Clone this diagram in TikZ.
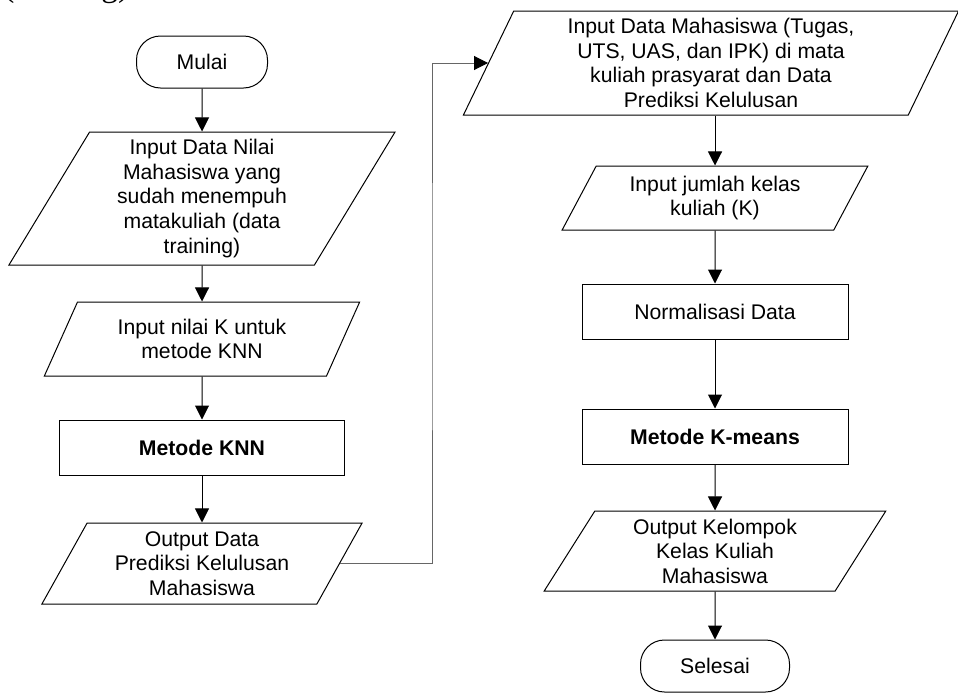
\documentclass[tikz,border=0pt]{standalone}
\usepackage{fontspec}
\setmainfont{Liberation Sans}
\newfontfamily\capfont{Liberation Serif}
\usetikzlibrary{arrows.meta}
\usetikzlibrary{shapes.geometric}

\begin{document}
\begin{tikzpicture}[x=0.75pt, y=-0.75pt,
  every node/.style={align=center, font=\fontsize{15.9}{18.4}\selectfont},
  term/.style={draw, line width=0.75pt, rectangle, rounded corners=18pt,
    minimum width=#1, minimum height=39pt},
  proc/.style={draw, line width=0.75pt, rectangle, inner sep=0pt,
    minimum width=#1, minimum height=41.25pt},
  io/.style 2 args={draw, line width=0.75pt, trapezium, inner sep=2pt,
    trapezium left angle=63, trapezium right angle=117,
    trapezium stretches=true, minimum width=#1, minimum height=#2},
  arr/.style={line width=0.75pt, -{Triangle[width=10.5pt, length=10.5pt]}},
  back/.style={line width=0.75pt, black!60,
    -{Triangle[width=10.5pt, length=10.5pt, color=black]}}]
\useasboundingbox (0,0) rectangle (958,693);
\begin{scope}
  \clip (0,0) rectangle (958,693);
  \node[anchor=base west, inner sep=0pt, font=\capfont\fontsize{25}{28}\selectfont] (cap) at (3,-4) {(training)};
\end{scope}

% kolom kiri: KNN
\node[term=98.25pt] (mulai) at (202,62) {Mulai};
\node[io={290.25pt}{99.75pt}] (inNilai) at (202,198.5)
  {Input Data Nilai\\Mahasiswa yang\\sudah menempuh\\matakuliah (data\\training)};
\node[io={237pt}{55.5pt}] (inK) at (202,339) {Input nilai K untuk\\metode KNN};
\node[proc=213.75pt] (knn) at (202,447.5) {\textbf{Metode KNN}};
\node[io={240.75pt}{60.75pt}] (outKnn) at (202,563.5)
  {Output Data\\Prediksi Kelulusan\\Mahasiswa};

% kolom kanan: K-means
\node[io={372pt}{78pt}, trapezium left angle=68.5, trapezium right angle=111.5] (inMhs) at (711,63)
  {Input Data Mahasiswa (Tugas,\\UTS, UAS, dan IPK) di mata\\kuliah prasyarat dan Data\\Prediksi Kelulusan};
\node[io={229.5pt}{48pt}] (inJml) at (715,198) {Input jumlah kelas\\kuliah (K)};
\node[proc=199.5pt] (norm) at (715,311.5) {Normalisasi Data};
\node[proc=199.5pt] (kmeans) at (715,436.5) {\textbf{Metode K-means}};
\node[io={256.5pt}{60pt}] (outKel) at (715,551)
  {Output Kelompok\\Kelas Kuliah\\Mahasiswa};
\node[term=111.75pt] (selesai) at (715,666) {Selesai};

\coordinate (turn) at (432,300);

\draw[arr] (mulai) -- (inNilai);
\draw[arr] (inNilai) -- (inK);
\draw[arr] (inK) -- (knn);
\draw[arr] (knn) -- (outKnn);
\draw[back] (outKnn.east) -| (turn) |- (inMhs.west);
\draw[arr] (inMhs.south -| inJml.north) -- (inJml.north);
\draw[arr] (inJml) -- (norm);
\draw[arr] (norm) -- (kmeans);
\draw[arr] (kmeans) -- (outKel);
\draw[arr] (outKel) -- (selesai);
\end{tikzpicture}
\end{document}
